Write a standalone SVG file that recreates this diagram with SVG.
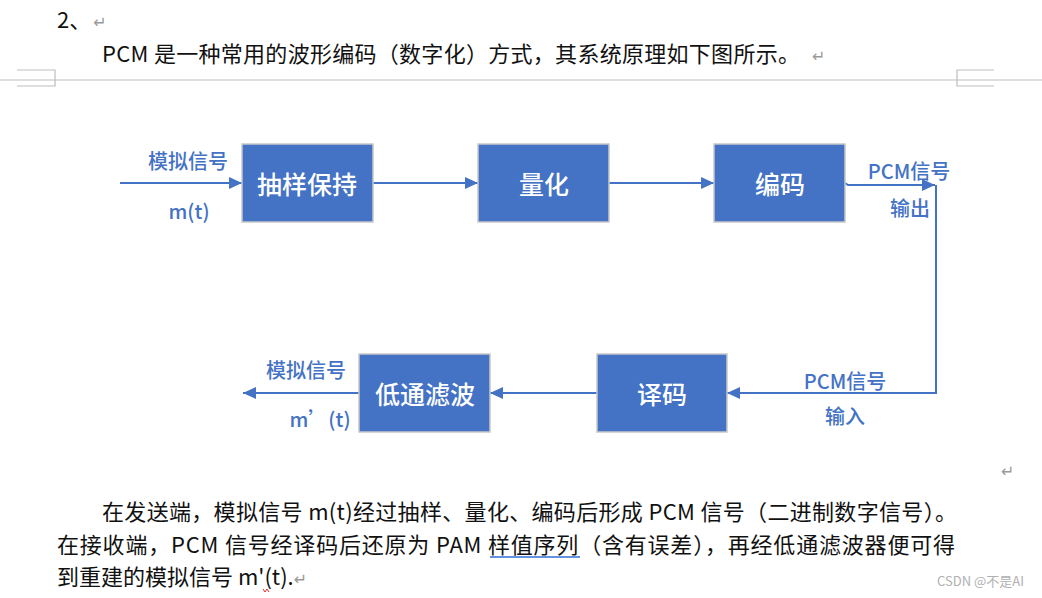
<svg xmlns="http://www.w3.org/2000/svg" width="1042" height="598" viewBox="0 0 1042 598">
<style>
.body{font-family:"Noto Sans CJK SC","Noto Sans",sans-serif;font-size:22px;fill:#111}
.ret{font-family:"DejaVu Sans",sans-serif;font-size:16px;fill:#999}
.box{fill:#4472C4;stroke:#c8c8c8;stroke-width:1.5}
.bt{font-family:"Noto Sans CJK SC",sans-serif;font-size:25px;fill:#fff;font-weight:500;text-anchor:middle;dominant-baseline:central}
.lb{font-family:"Noto Sans CJK SC",sans-serif;font-size:20px;fill:#4472C4;font-weight:500;text-anchor:middle;dominant-baseline:central}
.cn{fill:none;stroke:#4472C4;stroke-width:2}
.pm{fill:none;stroke:#bdbdbd;stroke-width:1.2}
</style>
<defs>
<marker id="ah" markerUnits="userSpaceOnUse" markerWidth="14" markerHeight="14" viewBox="0 0 14 14" refX="13" refY="7" orient="auto">
<path d="M0,1 L13,7 L0,13 Z" fill="#4472C4"/>
</marker>
</defs>
<rect width="1042" height="598" fill="#fff"/>
<g id="page">
<line class="pm" x1="0" y1="80" x2="1042" y2="80"/>
<polyline class="pm" points="17,70 55,70 55,86 17,86"/>
<polyline class="pm" points="994,70 957,70 957,86 994,86"/>
</g>
<g id="header">
<text class="body" x="57" y="28">2、<tspan class="ret" dx="2">↵</tspan></text>
<text class="body" x="102" y="62" textLength="698" lengthAdjust="spacing">PCM 是一种常用的波形编码（数字化）方式，其系统原理如下图所示。</text>
<text class="ret" x="812" y="62">↵</text>
</g>
<g id="connectors">
<path class="cn" d="M120,183 L242,183" marker-end="url(#ah)"/>
<path class="cn" d="M373,183 L478,183" marker-end="url(#ah)"/>
<path class="cn" d="M609,183 L714,183" marker-end="url(#ah)"/>
<path class="cn" d="M845,183 L848,185 L935,185" marker-end="url(#ah)"/>
<path class="cn" d="M936,185 L936,393 L727,393" marker-end="url(#ah)"/>
<path class="cn" d="M597,393 L490,393" marker-end="url(#ah)"/>
<path class="cn" d="M359,393 L243,393" marker-end="url(#ah)"/>
</g>
<g id="n-sample"><rect class="box" x="242" y="144" width="131" height="78"/><text class="bt" x="307" y="183">抽样保持</text></g>
<g id="n-quant"><rect class="box" x="478" y="144" width="131" height="78"/><text class="bt" x="544" y="183">量化</text></g>
<g id="n-encode"><rect class="box" x="714" y="144" width="131" height="78"/><text class="bt" x="780" y="183">编码</text></g>
<g id="n-lpf"><rect class="box" x="359" y="354" width="131" height="78"/><text class="bt" x="425" y="393">低通滤波</text></g>
<g id="n-decode"><rect class="box" x="597" y="354" width="130" height="78"/><text class="bt" x="662" y="393">译码</text></g>
<g id="labels">
<text class="lb" x="188" y="160">模拟信号</text>
<text class="lb" x="189" y="210">m(t)</text>
<text class="lb" x="909" y="170">PCM信号</text>
<text class="lb" x="910" y="207">输出</text>
<text class="lb" x="306" y="369">模拟信号</text>
<text class="lb" x="320" y="418">m’(t)</text>
<text class="lb" x="845" y="380">PCM信号</text>
<text class="lb" x="845" y="415">输入</text>
</g>
<text class="ret" x="1001" y="477">↵</text>
<g id="body">
<text class="body" x="102" y="520" textLength="855" lengthAdjust="spacing">在发送端，模拟信号 m(t)经过抽样、量化、编码后形成 PCM 信号（二进制数字信号）。</text>
<text class="body" x="57" y="553" textLength="898" lengthAdjust="spacing">在接收端，PCM 信号经译码后还原为 PAM 样值序列（含有误差），再经低通滤波器便可得</text>
<line x1="490" y1="557" x2="580" y2="557" stroke="#2f6fd6" stroke-width="1.5"/>
<text class="body" x="57" y="585">到重建的模拟信号 m'(t).<tspan class="ret">↵</tspan></text>
<path d="M263,589 l2,3 l2,-3 l2,3" fill="none" stroke="#e03030" stroke-width="1"/>
<text x="937" y="586" font-family="'Noto Sans CJK SC',sans-serif" font-size="13" fill="#b0b0b0">CSDN @不是AI</text>
</g>
</svg>
